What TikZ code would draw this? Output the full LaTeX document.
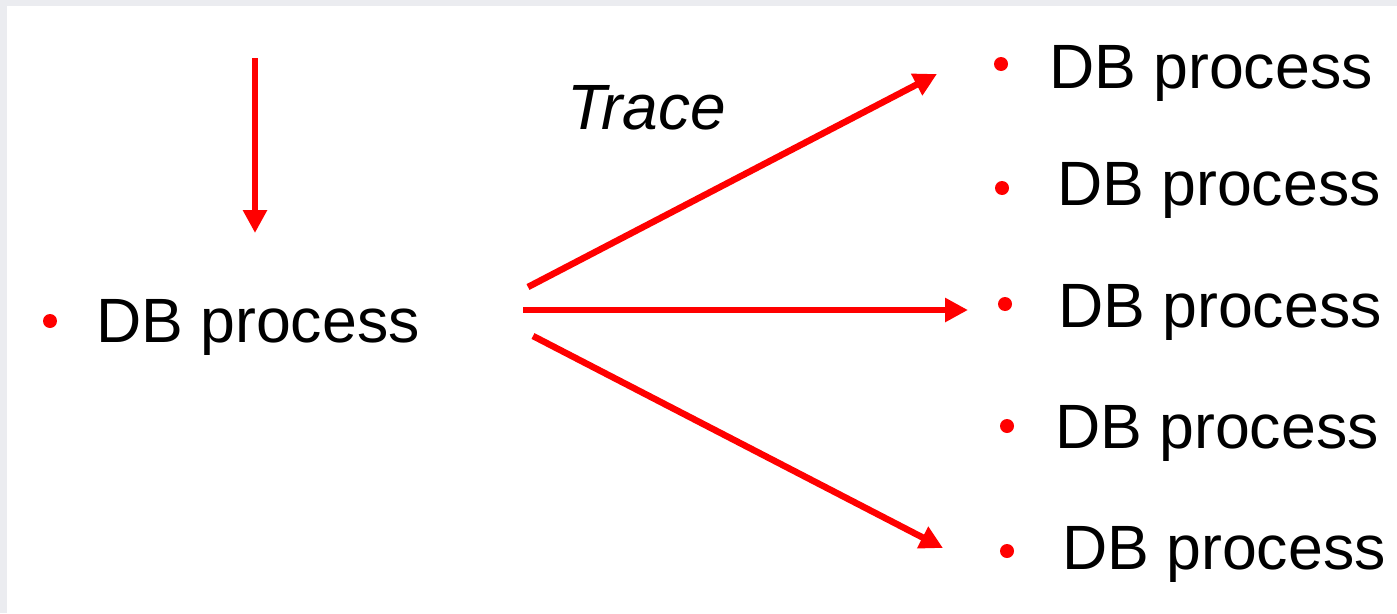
\documentclass[tikz,border=0pt]{standalone}
\usepackage{fontspec}
\setmainfont{Liberation Sans}
\usetikzlibrary{arrows.meta}
\definecolor{pagegray}{HTML}{EBECF0}
\definecolor{bulletred}{HTML}{FF0000}
\tikzset{
  label/.style={anchor=base west, inner sep=0pt, text=black,
    font=\fontsize{62.6}{70}\selectfont},
  dot/.style={circle, fill=bulletred, inner sep=0pt, minimum size=14pt},
  flow/.style={draw=bulletred, line width=6.5pt,
    -{Triangle[length=23pt,width=23pt]}}
}
\begin{document}
\begin{tikzpicture}[x=1pt,y=-1pt]
  % page and frame
  \fill[pagegray] (0,0) rectangle (1397,613);
  \fill[white] (7,6) rectangle (1397,613);
  \useasboundingbox (0,0) rectangle (1397,613);

  % source item
  \node[dot] (d0) at (50,321) {};
  \node[label] (src) at (96,342) {DB process};

  % target items
  \node[dot] (d1) at (1001,64) {};
  \node[label] (t1) at (1049,88) {DB process};
  \node[dot] (d2) at (1002,188) {};
  \node[label] (t2) at (1057,205) {DB process};
  \node[dot] (d3) at (1005,304) {};
  \node[label] (t3) at (1058,327) {DB process};
  \node[dot] (d4) at (1007,426) {};
  \node[label] (t4) at (1055,448) {DB process};
  \node[dot] (d5) at (1007,551) {};
  \node[label] (t5) at (1062,569) {DB process};

  % caption over the fan
  \node[label, font=\fontsize{64}{72}\selectfont\itshape] (trace) at (567,129) {Trace};

  % arrow ends
  \coordinate (inTop) at (255,58);
  \coordinate (inEnd) at (255,233);
  \coordinate (fanA) at (528,287);
  \coordinate (fanB) at (523,310);
  \coordinate (fanC) at (533,336);
  \coordinate (endA) at (937,74);
  \coordinate (endB) at (968,310);
  \coordinate (endC) at (943,548);

  % connectors
  \draw[flow] (inTop) -- (inEnd);
  \draw[flow] (fanA) -- (endA);
  \draw[flow] (fanB) -- (endB);
  \draw[flow] (fanC) -- (endC);
\end{tikzpicture}
\end{document}
